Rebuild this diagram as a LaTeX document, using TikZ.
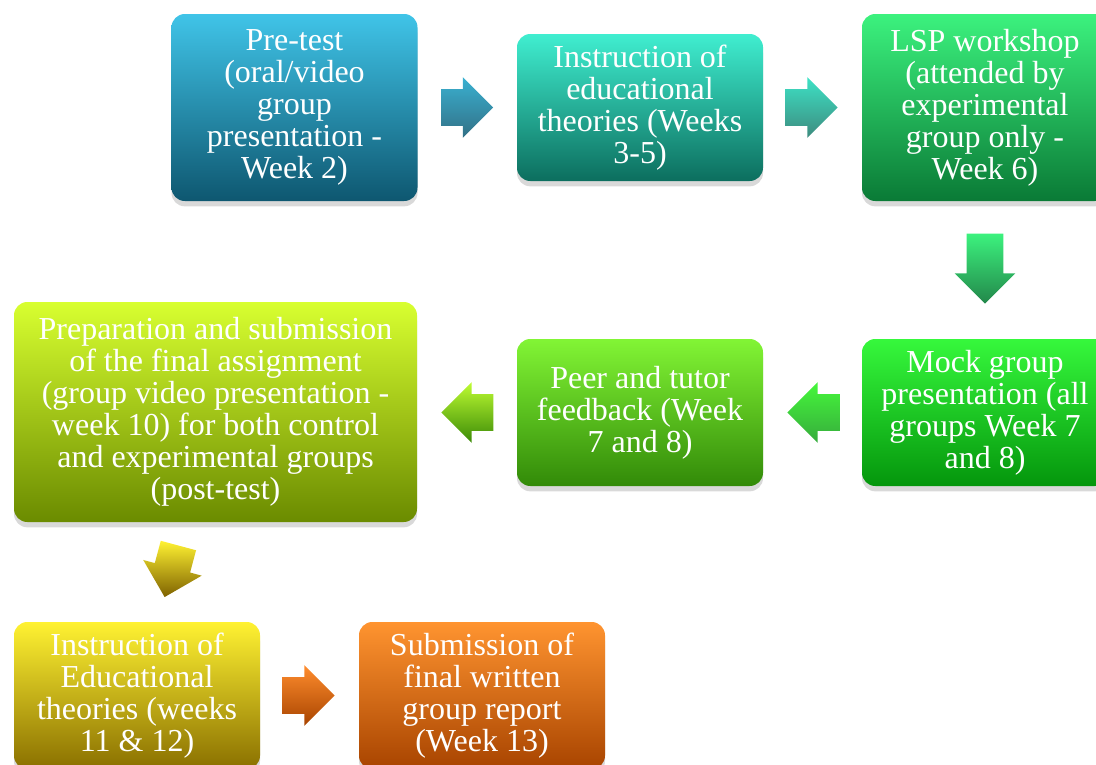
\documentclass[tikz,border=0pt]{standalone}
\usepackage{fontspec}
\setmainfont{Liberation Serif}
\usepackage{xcolor}
\usepackage{tikz}
\usetikzlibrary{shapes}
\usetikzlibrary{shapes.arrows}
\usetikzlibrary{shadows}
\usetikzlibrary{calc}
\definecolor{preTop}{HTML}{40C4E8}
\definecolor{preBot}{HTML}{0E5770}
\definecolor{instTop}{HTML}{40EED0}
\definecolor{instBot}{HTML}{0C6E5E}
\definecolor{lspTop}{HTML}{3CF27E}
\definecolor{lspBot}{HTML}{0A7A36}
\definecolor{mockTop}{HTML}{36F83C}
\definecolor{mockBot}{HTML}{04960C}
\definecolor{peerTop}{HTML}{82F535}
\definecolor{peerBot}{HTML}{328A08}
\definecolor{prepTop}{HTML}{D8FF30}
\definecolor{prepBot}{HTML}{6B8B00}
\definecolor{eduTop}{HTML}{FFF232}
\definecolor{eduBot}{HTML}{8A7000}
\definecolor{subTop}{HTML}{FF9430}
\definecolor{subBot}{HTML}{A84400}
\tikzset{ stage_box/.style = {rectangle, rounded corners=10pt, minimum width=184.5pt, minimum height=110.25pt, inner sep=2pt, align=center, text=white, font=\fontsize{24}{24}\selectfont, drop shadow={shadow xshift=0pt, shadow yshift=-4pt, opacity=0.3}} }
\tikzset{ block_arrow/.style = {single arrow, anchor=tail, inner sep=0pt, text height=27pt, text depth=0pt, minimum width=45pt, single arrow head extend=9pt, minimum height=39pt} }

\begin{document}
\begin{tikzpicture}[x=0.75pt,y=-0.75pt]
        \useasboundingbox (0,0) rectangle (1096,764);
                \node [style=stage_box, minimum height=140.25pt, top color=preTop, bottom color=preBot] (pre) at (294.5,107.5) {Pre-test\\(oral/video\\group\\presentation -\\Week 2)};
                \node [style=stage_box, top color=instTop, bottom color=instBot] (inst) at (640,107.5) {Instruction of\\educational\\theories (Weeks\\3-5)};
                \node [style=stage_box, minimum height=140.25pt, top color=lspTop, bottom color=lspBot] (lsp) at (985,107.5) {LSP workshop\\(attended by\\experimental\\group only -\\Week 6)};
                \node [style=stage_box, top color=mockTop, bottom color=mockBot] (mock) at (985,412.5) {Mock group\\presentation (all\\groups Week 7\\and 8)};
                \node [style=stage_box, top color=peerTop, bottom color=peerBot] (peer) at (640,412.5) {Peer and tutor\\feedback (Week\\7 and 8)};
                \node [style=stage_box, minimum width=302.25pt, minimum height=165pt, top color=prepTop, bottom color=prepBot] (prep) at (215.5,412) {Preparation and submission\\of the final assignment\\(group video presentation -\\week 10) for both control\\and experimental groups\\(post-test)};
                \node [style=stage_box, top color=eduTop, bottom color=eduBot] (edu) at (137,695.5) {Instruction of\\Educational\\theories (weeks\\11 \& 12)};
                \node [style=stage_box, top color=subTop, bottom color=subBot] (sub) at (482,695.5) {Submission of\\final written\\group report\\(Week 13)};
                % arrows between the stages
                \node [style=block_arrow, top color=preTop!90!black, bottom color=preBot!85!white] (a1) at ($(pre.east)+(23,0)$) {};
                \node [style=block_arrow, top color=instTop!95!black, bottom color=instBot!80!white] (a2) at ($(inst.east)+(22,0)$) {};
                \node [style=block_arrow, minimum height=52.5pt, rotate=-90, top color=lspTop, bottom color=lspBot!90!white] (a3) at ($(lsp.south)+(0,32)$) {};
                \node [style=block_arrow, rotate=180, top color=mockTop!80!peerTop, bottom color=mockBot!80!white] (a4) at ($(mock.west)+(-22,0)$) {};
                \node [style=block_arrow, rotate=180, top color=prepTop!70!peerTop, bottom color=peerBot!85!prepBot] (a5) at ($(peer.west)+(-23,0)$) {};
                \node [style=block_arrow, minimum height=40pt, rotate=-105, top color=eduTop, bottom color=eduBot!110!white] (a6) at ($(prep.south)+(-37,23)$) {};
                \node [style=block_arrow, top color=subTop!95!red, bottom color=subBot] (a7) at ($(edu.east)+(22,0)$) {};
\end{tikzpicture}
\end{document}
